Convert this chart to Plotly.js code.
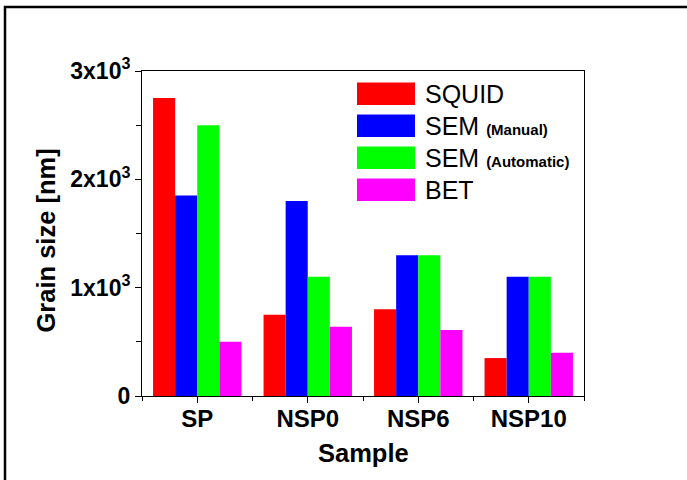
<!DOCTYPE html>
<html>
<head>
<meta charset="utf-8">
<script src="https://cdn.plot.ly/plotly-3.0.1.min.js"></script>
<style>html,body{margin:0;padding:0;background:#fff;}#chart{width:687px;height:480px;}</style>
</head>
<body>
<div id="chart"></div>
<script>
// ---- data ----
const categories = ['SP', 'NSP0', 'NSP6', 'NSP10'];
const squid      = [2750, 750, 800, 350];
const semManual  = [1850, 1800, 1300, 1100];
const semAuto    = [2500, 1100, 1300, 1100];
const bet        = [500, 640, 610, 400];
const seriesNames = ['SQUID', 'SEM <span style="font-size:15px"><b>(Manual)</b></span>', 'SEM <span style="font-size:15px"><b>(Automatic)</b></span>', 'BET'];
const seriesColors = ['#FF0000', '#0000FF', '#00FF00', '#FF00FF'];
const yTickVals = [0, 1000, 2000, 3000];
const yTickText = ['0', '1x10<sup>3</sup>', '2x10<sup>3</sup>', '3x10<sup>3</sup>'];
const xTitle = 'Sample';
const yTitle = 'Grain size [nm]';

const FONT = 'Liberation Sans, Arial, Helvetica, sans-serif';
const W = 687, H = 480;
const M = {l: 142, r: 103, t: 71, b: 84};
const PW = W - M.l - M.r, PH = H - M.t - M.b;
const px2x = p => (p - M.l) / PW;
const px2y = p => (H - M.b - p) / PH;

const xIdx = categories.map((_, i) => i);
const allSeries = [squid, semManual, semAuto, bet];
const traces = allSeries.map((vals, k) => ({
  type: 'bar', x: xIdx, y: vals, name: seriesNames[k],
  marker: {color: seriesColors[k], line: {width: 0}},
  showlegend: false, hoverinfo: 'skip'
}));

// manual legend (large swatches)
const shapes = [];
const annotations = [];
const legTop = 82.5, legPitch = 32, swH = 22.5, swX0 = 357, swX1 = 415, txtX = 423;
seriesNames.forEach((nm, k) => {
  const y0 = legTop + k * legPitch;
  shapes.push({type: 'rect', xref: 'paper', yref: 'paper',
    x0: px2x(swX0), x1: px2x(swX1), y0: px2y(y0 + swH), y1: px2y(y0),
    fillcolor: seriesColors[k], line: {width: 0}});
  annotations.push({xref: 'paper', yref: 'paper', x: px2x(txtX), y: px2y(y0 + swH / 2),
    xanchor: 'left', yanchor: 'middle', showarrow: false, text: nm,
    font: {family: FONT, size: 25, color: '#000'}});
});
// axis titles
annotations.push({xref: 'paper', yref: 'paper', x: px2x(363), y: px2y(453),
  xanchor: 'center', yanchor: 'middle', showarrow: false, text: xTitle,
  font: {family: FONT, size: 25.5, weight: 'bold', color: '#000'}});
annotations.push({xref: 'paper', yref: 'paper', x: px2x(45), y: px2y(240.5),
  xanchor: 'center', yanchor: 'middle', showarrow: false, text: yTitle, textangle: -90,
  font: {family: FONT, size: 25.5, weight: 'bold', color: '#000'}});
// outer frame
shapes.push({type: 'rect', xref: 'paper', yref: 'paper',
  x0: px2x(5), x1: px2x(720), y0: px2y(520), y1: px2y(7),
  line: {color: '#000', width: 2.5}, fillcolor: 'rgba(0,0,0,0)'});

const layout = {
  width: W, height: H,
  margin: M,
  paper_bgcolor: '#fff', plot_bgcolor: '#fff',
  barmode: 'group', bargap: 0.2, bargroupgap: 0,
  showlegend: false,
  font: {family: FONT, color: '#000'},
  xaxis: {
    type: 'linear', range: [-0.5, categories.length - 0.5],
    tickmode: 'array', tickvals: xIdx, ticktext: categories,
    ticks: 'outside', ticklen: 6, tickwidth: 1, tickcolor: '#000',
    minor: {tickmode: 'linear', tick0: -0.5, dtick: 1, ticks: 'outside', ticklen: 4, tickwidth: 1, tickcolor: '#000'},
    showgrid: false, zeroline: false,
    showline: true, linecolor: '#000', linewidth: 1, mirror: true,
    tickfont: {family: FONT, size: 24, weight: 'bold', color: '#000'},
    ticklabelstandoff: -5,
    automargin: false, fixedrange: true
  },
  yaxis: {
    range: [0, 3000],
    tickmode: 'array', tickvals: yTickVals, ticktext: yTickText,
    ticks: 'outside', ticklen: 6, tickwidth: 1, tickcolor: '#000',
    minor: {tickmode: 'linear', tick0: 0, dtick: 500, ticks: 'outside', ticklen: 5, tickwidth: 1, tickcolor: '#000'},
    showgrid: false, zeroline: false,
    showline: true, linecolor: '#000', linewidth: 1, mirror: true,
    tickfont: {family: FONT, size: 23, weight: 'bold', color: '#000'},
    automargin: false, fixedrange: true
  },
  shapes: shapes,
  annotations: annotations
};

Plotly.newPlot('chart', traces, layout, {displayModeBar: false, staticPlot: true});
</script>
</body>
</html>
